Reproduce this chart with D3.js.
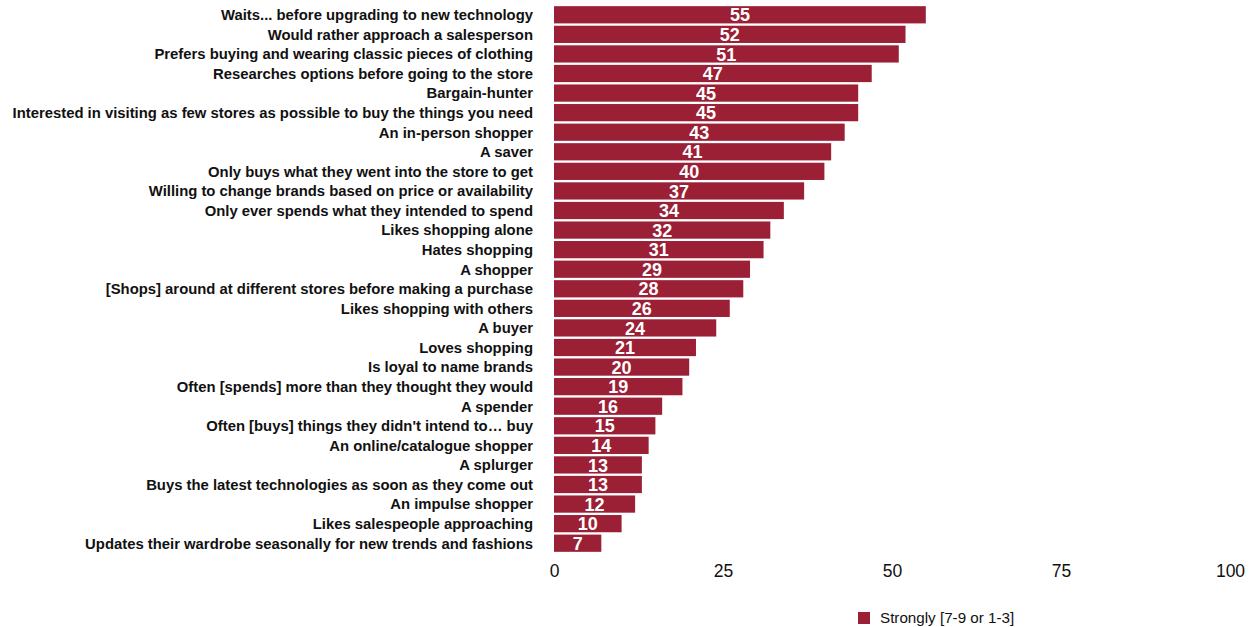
<!DOCTYPE html>
<html>
<head>
<meta charset="utf-8">
<script src="https://cdn.jsdelivr.net/npm/d3@7"></script>
<style>
  html, body { margin: 0; padding: 0; background: #fff; }
  svg { display: block; font-family: "Liberation Sans", Arial, Helvetica, sans-serif; }
</style>
</head>
<body>
<svg id="chart" width="1251" height="627"></svg>
<script>
// Shopper self-descriptions and the share who agree strongly
const categories = [
  "Waits... before upgrading to new technology",
  "Would rather approach a salesperson",
  "Prefers buying and wearing classic pieces of clothing",
  "Researches options before going to the store",
  "Bargain-hunter",
  "Interested in visiting as few stores as possible to buy the things you need",
  "An in-person shopper",
  "A saver",
  "Only buys what they went into the store to get",
  "Willing to change brands based on price or availability",
  "Only ever spends what they intended to spend",
  "Likes shopping alone",
  "Hates shopping",
  "A shopper",
  "[Shops] around at different stores before making a purchase",
  "Likes shopping with others",
  "A buyer",
  "Loves shopping",
  "Is loyal to name brands",
  "Often [spends] more than they thought they would",
  "A spender",
  "Often [buys] things they didn't intend to… buy",
  "An online/catalogue shopper",
  "A splurger",
  "Buys the latest technologies as soon as they come out",
  "An impulse shopper",
  "Likes salespeople approaching",
  "Updates their wardrobe seasonally for new trends and fashions"
];
const strongly = [55, 52, 51, 47, 45, 45, 43, 41, 40, 37, 34, 32, 31, 29, 28, 26, 24, 21, 20, 19, 16, 15, 14, 13, 13, 12, 10, 7];
const xTicks = [0, 25, 50, 75, 100];
const seriesName = "Strongly [7-9 or 1-3]";

const color = "#9b1f35";
const svg = d3.select("#chart");

const x = d3.scaleLinear().domain([0, 100]).range([554, 1230]);
const y = d3.scaleBand().domain(categories).range([5, 553]).paddingInner(0.12).paddingOuter(0.06);

// Bars
svg.append("g").selectAll("rect")
  .data(categories)
  .join("rect")
  .attr("x", x(0))
  .attr("y", d => y(d))
  .attr("width", (d, i) => x(strongly[i]) - x(0))
  .attr("height", y.bandwidth())
  .attr("fill", color);

// Value labels centred on each bar
svg.append("g").selectAll("text")
  .data(categories)
  .join("text")
  .attr("x", (d, i) => x(strongly[i] / 2))
  .attr("y", d => y(d) + y.bandwidth() / 2)
  .attr("dy", "0.37em")
  .attr("text-anchor", "middle")
  .attr("fill", "#fff")
  .attr("font-weight", "bold")
  .attr("font-size", 18)
  .text((d, i) => strongly[i]);

// Category axis
const yAxis = svg.append("g")
  .attr("transform", `translate(${x(0) - 21},0)`)
  .call(d3.axisLeft(y).tickSize(0).tickPadding(0));
yAxis.select(".domain").remove();
yAxis.selectAll("text")
  .attr("dy", "0.36em")
  .attr("font-family", "'Liberation Sans', Arial, sans-serif")
  .attr("font-size", 14.85)
  .attr("font-weight", "bold")
  .attr("fill", "#111");

// Value axis
const xAxis = svg.append("g")
  .attr("transform", `translate(0,${553})`)
  .call(d3.axisBottom(x).tickValues(xTicks).tickSize(0).tickPadding(12));
xAxis.select(".domain").remove();
xAxis.selectAll("text")
  .attr("font-family", "'Liberation Sans', Arial, sans-serif")
  .attr("font-size", 17.5)
  .attr("fill", "#111");

// Legend
const legend = svg.append("g").attr("transform", "translate(858,612)");
legend.append("rect").attr("width", 12).attr("height", 12).attr("fill", color);
legend.append("text")
  .attr("x", 22).attr("y", 6).attr("dy", "0.35em")
  .attr("font-size", 15.2)
  .attr("fill", "#111")
  .text(seriesName);
</script>
</body>
</html>
